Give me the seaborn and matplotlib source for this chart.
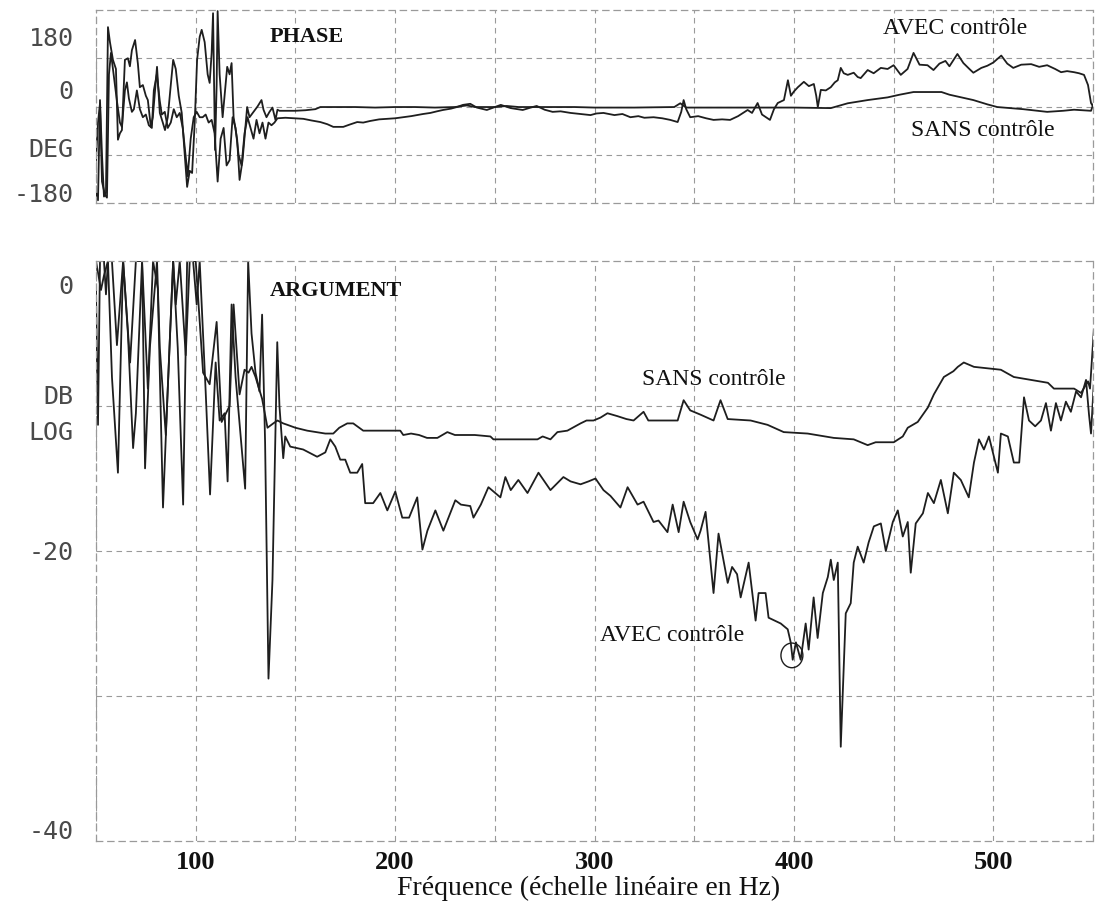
import numpy as np
import pandas as pd
import matplotlib
matplotlib.use("Agg")
import matplotlib.pyplot as plt
from matplotlib.patches import Ellipse
import seaborn as sns

# ---------------- data ----------------
# PHASE panel (degrees)
phase_sans_f = [50, 51, 52, 53, 54, 55, 56, 57, 58.5, 60, 61, 62, 63, 64.5, 66, 67, 68, 69.6, 71, 72,
                73.5, 75, 76, 77.5, 78.5, 80.6, 82, 83.5, 84.6, 86, 87.5, 88.7, 90, 91.5, 93, 94.5, 95.7,
                97, 98.2, 99.5, 100.7, 102, 103, 104.5, 106, 107, 108, 108.7, 109.7, 110.5, 111, 112,
                113.5, 115.8, 117, 118, 119, 120.8, 122, 123.5, 125.8, 127, 129, 131, 133, 134, 135.5,
                137, 138.5, 140, 141, 142, 145, 150, 155, 160, 162.5, 170, 180, 190, 200, 210, 220, 230,
                236, 240, 250, 256, 262, 275, 290, 300, 320, 340, 343, 346, 360, 380, 400, 418.5, 427,
                437, 447, 453, 460, 474, 478, 490, 497, 502, 515, 527, 535, 540.5, 549, 550.5]
phase_sans_deg = [-160, -175, 12, -90, -168, -160, 148, 120, 87, 70, -62, -50, -44, 87, 90, 75, 105, 124, 80, 36,
                  40, 20, 12, -38, -20, 74, -12, -30, -44, -20, 40, 87, 70, 20, -12, -90, -150,
                  -120, -124, -30, 87, 130, 143, 120, 60, 44, 100, 174, -81, 40, 178, 60,
                  -20, 74, 60, 81, -20, -62, -137, -100, -1, -20, -10, 0, 12, -6, -20,
                  -10, -2, -25, -6, -8, -8, -8, -7, -5, -1, -1, -1, -2, -1, -1, -2, -1,
                  2, -1, -1, 1, -1, -1, -1, -2, -2, -1, 6, -2, -2, -2, -2, -3, 6,
                  12, 17, 22, 27, 27, 22, 12, 4, -1, -5, -10, -8, -6, -8, 8]

phase_avec_f = [50, 51, 52, 53, 54.5, 55.5, 56.5, 57.5, 59, 60.5, 62, 63, 64.5, 65.5, 66.5, 68, 69, 70.5, 72,
                73.5, 75, 76.5, 78, 79, 80.5, 82, 83, 84.5, 86, 87.5, 89, 90.5, 92, 93.5, 95, 96, 97.5, 99,
                100.5, 102, 103.5, 105, 106.5, 108, 109.5, 111, 112.5, 114, 115.5, 117, 118.5, 120, 121.5,
                123, 124.5, 126, 127.5, 129, 130.5, 132, 133.5, 135, 136.5, 138, 139.5, 141, 145, 150, 154,
                158, 162.5, 166, 169, 174, 177, 181, 184, 187.5, 192, 196, 200, 204, 208, 211, 214, 217.7,
                221, 224, 228, 231, 234, 237.7, 241, 246, 250, 253, 258, 264, 268, 271, 275, 279, 283, 288,
                293, 298, 301, 304.5, 310, 314, 318, 322, 325, 329.6, 334, 338, 341.7, 343.5, 344.7, 346,
                348, 352, 356, 359.7, 364, 368, 372, 376.8, 379, 381.8, 384, 388, 390, 391.9, 395, 397,
                398.5, 400, 402, 405, 407.5, 410, 411.2, 412, 413.5, 416, 418.5, 420.5, 422, 423.5, 425,
                427, 430, 432, 433.5, 437, 440, 443.6, 447, 450, 453.6, 457, 460, 463, 467, 470, 473, 476,
                478, 482, 485, 488, 490, 494, 497, 500, 504, 507, 510, 514, 519, 523, 527, 531, 534, 537,
                540.5, 543, 545.5, 547.5, 549, 550.5]
phase_avec_deg = [-100, -30, 5, -140, -165, -170, 60, 100, 55, 10, -30, -38, 30, 45, 15, -10, -5, 30, -5,
                  -20, -15, -35, -40, 30, 60, 10, -15, -10, -40, -30, -5, -20, -12, -40, -95, -130, -60, -20,
                  -10, -20, -20, -15, -30, -25, -50, -140, -60, -40, -110, -100, -20, -40, -90,
                  -110, -50, -20, -40, -60, -25, -50, -30, -60, -30, -35, -30, -22, -21, -22, -23,
                  -26, -29, -33, -38, -38, -34, -29, -30, -27, -24, -23, -22, -20, -18, -16, -14, -12,
                  -9, -6.5, -4, -1, 3, 5, -2, -6.5, -1, 3, -3, -6.5, -2, 1, -6, -10, -9, -12,
                  -14, -16, -13, -12, -16, -14, -20, -18, -21, -20, -22, -25, -29, -10, 12, -5,
                  -20, -18, -22, -25, -24, -25, -18, -6.5, -12, 6.5, -15, -25, -5, 6.5, 12, 49,
                  20, 28, 36, 46, 38, 42, 20, -1, 31, 30, 36, 45, 49, 72, 62,
                  59, 63, 55, 53, 68, 62, 72, 70, 77, 59, 70, 100, 78, 77, 68, 80, 85,
                  75, 98, 81, 70, 63, 72, 76, 82, 95, 80, 72, 78, 79, 74, 77, 70, 64, 66,
                  64, 62, 59, 40, 6.5, -3]

# ARGUMENT panel (dB)
gain_sans_f = [50, 51, 52, 54, 55, 56, 58, 60.5, 63.6, 67.1, 70, 73.1, 76, 78.6, 81, 83.6, 85.6, 88.7, 90,
               92, 95, 97, 100, 103.7, 107, 110.5, 113, 117, 119, 122, 124.5, 126.5, 128, 130, 133.3, 136,
               138.9, 141, 143.9, 146, 150, 155.9, 165, 169, 172, 176, 179, 184, 202.6, 204.1, 208, 212,
               216, 221.2, 226.2, 230, 240, 247.8, 249.3, 271.4, 274, 277.9, 281.4, 286.4, 293, 296, 299.5,
               303, 306.5, 311.5, 316, 319.6, 324.6, 327, 341.7, 344.7, 348, 353.2, 359.7, 363.2, 366.8,
               378.3, 386.8, 394.9, 406.9, 420, 430, 437, 441, 450.1, 454.6, 457.1, 462.1, 467.2, 470.2,
               475.2, 480, 482.2, 485.2, 490.3, 503.8, 510.3, 527.4, 530.4, 540.5, 544, 547.5, 548.5, 550.5]
gain_sans_db = [-2.0, -11.3, 0, 0, -2.3, 0, 0, -5.8, 0, -7.0, 0, 0, -8.8, 0, -1.9, -17.0, -10.1, 0, -3,
                0, -6.5, 0, 0, -7.7, -8.5, -4.2, -11.1, -10, -3.0, -9.2, -7.5, -7.7, -7.3, -8, -9.5, -11.5,
                -11.2, -11.0, -11.2, -11.3, -11.5, -11.7, -11.9, -11.9, -11.5, -11.2, -11.2, -11.7, -11.7, -12.0, -11.9, -12.0,
                -12.2, -12.2, -11.8, -12.0, -12.0, -12.1, -12.3, -12.3, -12.1, -12.3, -11.8, -11.7, -11.2, -11.0, -11.0,
                -10.8, -10.5, -10.7, -10.9, -11.0, -10.4, -11.0, -11.0, -9.6, -10.3, -10.6, -11.0, -9.6, -10.9,
                -11.0, -11.3, -11.8, -11.9, -12.2, -12.3, -12.7, -12.5, -12.5, -12.1, -11.5, -11.1, -10.1, -9.2,
                -8.0, -7.6, -7.3, -7.0, -7.3, -7.5, -8.0, -8.4, -8.8, -8.8, -9.1, -8.3, -8.8, -4.6]

gain_avec_f = [50, 52.5, 54, 56, 58, 61, 63.6, 66, 68.6, 70, 73.1, 74.6, 77, 80.6, 82, 85, 88.7, 91, 93.7,
               95.7, 98.7, 100.5, 102, 105, 107.2, 110, 112, 114.5, 116, 118, 120, 122.5, 124.8, 126.3,
               128, 130, 132, 133.3, 134.8, 136.5, 138.5, 140.9, 142, 143.9, 144.9, 147.4, 153.9, 160.9,
               165, 167.5, 170, 172.5, 175, 177.5, 181, 183.5, 185, 189, 192.6, 196.1, 200.1, 203.6, 207,
               211.1, 213.7, 216.2, 220.2, 224.2, 230.2, 233, 237.7, 239.3, 243, 246.8, 252.8, 255.3, 258,
               261.8, 266.4, 271.9, 277.9, 284.4, 288, 293, 297, 300.5, 304.5, 308, 313, 316.6, 321.6,
               324.6, 329.6, 332.1, 336.6, 339.2, 342.2, 344.7, 348, 351.7, 353.2, 355.7, 359.7, 362.2,
               366.8, 369, 371.5, 373.3, 377.3, 380.8, 382.3, 385.8, 387.3, 393.4, 396.9, 398.4, 399.4,
               401, 403.4, 405.9, 407.4, 409.9, 411.9, 414.5, 417, 418.5, 420, 422, 423.5, 426, 428.5,
               430, 432, 435, 437.5, 440.1, 443.6, 446.1, 449.6, 452.1, 454.6, 457.1, 458.6, 461.1, 464.7,
               467.2, 470.2, 473.7, 477.2, 480.2, 483.7, 487.7, 490.3, 492.8, 495.3, 497.8, 502.3, 503.8,
               507.3, 510.3, 513, 515.4, 517.9, 521, 523.9, 526.4, 528.9, 531.4, 533.9, 536.4, 538.9,
               541.5, 544, 546.5, 548, 549, 550.5]
gain_avec_db = [0, -2, -1, 0, -8, -14.6, 0, -5, -12.9, -10.5, 0, -14.3, -6, 0, -6, -12, 0, -6, -16.8,
                0, 0, -3, 0, -9, -16.1, -7, -11, -10.5, -15.2, -3, -8, -12, -15.7, 0,
                -5, -7.7, -9, -3.7, -12.5, -28.8, -22, -5.6, -10, -13.6, -12.1, -12.8, -13.0, -13.5,
                -13.2, -12.3, -12.8, -13.7, -13.7, -14.6, -14.6, -14.0, -16.7, -16.7, -16.0, -17.2, -15.9, -17.7, -17.7,
                -16.3, -19.9, -18.6, -17.2, -18.6, -16.5, -16.8, -16.9, -17.7, -16.8, -15.6, -16.3, -14.9, -15.8,
                -15.1, -16.0, -14.6, -15.8, -14.9, -15.2, -15.4, -15.2, -15.0, -15.8, -16.2, -17.0, -15.6, -16.8,
                -16.6, -18.0, -17.9, -18.7, -16.8, -18.7, -16.6, -18.0, -19.2, -18.6, -17.3, -22.9, -18.8,
                -22.2, -21.1, -21.6, -23.2, -20.8, -24.8, -22.9, -22.9, -24.6, -25.0, -25.4, -26.3, -27.5,
                -26.3, -27.5, -25.0, -26.8, -23.2, -26.0, -22.9, -21.8, -20.6, -22.0, -20.8, -33.5, -24.3, -23.6,
                -20.8, -19.7, -20.8, -19.4, -18.3, -18.1, -20.0, -18.0, -17.2, -19.0, -18.0, -21.5, -18.1, -17.4,
                -16.0, -16.7, -15.1, -17.4, -14.6, -15.1, -16.3, -13.9, -12.3, -13.0, -12.1, -14.6, -11.9,
                -12.1, -13.9, -13.9, -9.4, -11.0, -11.4, -11.0, -9.8, -11.7, -9.8, -11.0, -9.7, -10.4,
                -9.0, -9.4, -8.2, -10.6, -11.9, -8.2]

x_ticks = [100, 200, 300, 400, 500]
x_grid = [50, 100, 150, 200, 250, 300, 350, 400, 450, 500, 550]
phase_grid = [-90, 0, 90]
gain_grid = [-10, -20, -30]
phase_tick_pos = [130, 31, -77, -161]
phase_tick_lab = ["180", "0", "DEG", "-180"]
gain_tick_pos = [-1.65, -9.2, -11.7, -20, -39.2]
gain_tick_lab = ["0", "DB", "LOG", "-20", "-40"]

# ---------------- figure ----------------
sns.set_theme(style="white")
plt.rcParams['font.family'] = ['DejaVu Sans']

W, H = 1099, 906
fig = plt.figure(figsize=(W / 100, H / 100), dpi=100)
ax1 = fig.add_axes([96 / W, 1 - 203 / H, 997 / W, 193 / H])
ax2 = fig.add_axes([96 / W, 1 - 841 / H, 997 / W, 580 / H])

line_c = "#1e1e1e"
grid_c = "#9a9a9a"
dash = (0, (5, 4))

def draw(ax, f, v):
    df = pd.DataFrame({"f": f, "v": v})
    sns.lineplot(data=df, x="f", y="v", ax=ax, color=line_c, linewidth=1.3,
                 estimator=None, sort=False, legend=False)

draw(ax1, phase_sans_f, phase_sans_deg)
draw(ax1, phase_avec_f, phase_avec_deg)
draw(ax2, gain_sans_f, gain_sans_db)
draw(ax2, gain_avec_f, gain_avec_db)

for ax, ylim, hgrid in [(ax1, (-180, 180), phase_grid), (ax2, (-40, 0), gain_grid)]:
    ax.set_xlim(50, 550)
    ax.set_ylim(*ylim)
    ax.set_xlabel("")
    ax.set_ylabel("")
    for g in x_grid:
        ax.axvline(g, color=grid_c, lw=0.8, ls=dash, zorder=0)
    for g in hgrid:
        ax.axhline(g, color=grid_c, lw=0.8, ls=dash, zorder=0)
    for s in ax.spines.values():
        s.set_color(grid_c)
        s.set_linewidth(0.9)
        s.set_linestyle(dash)
    ax.tick_params(length=0)

ax1.set_xticks([])
ax1.set_yticks(phase_tick_pos)
ax1.set_yticklabels(phase_tick_lab)
ax2.set_yticks(gain_tick_pos)
ax2.set_yticklabels(gain_tick_lab)
for ax in (ax1, ax2):
    ax.tick_params(axis="y", pad=16)
    for t in ax.get_yticklabels():
        t.set_family("DejaVu Sans Mono")
        t.set_fontsize(18)
        t.set_color("#4a4a4a")

ax2.set_xticks(x_ticks)
ax2.set_xticklabels([str(v) for v in x_ticks])
ax2.tick_params(axis="x", pad=7)
for t in ax2.get_xticklabels():
    t.set_family("Liberation Serif")
    t.set_fontweight("bold")
    t.set_fontsize(19)
    t.set_color("#111111")

ax2.set_xlabel("Fréquence (échelle linéaire en Hz)", family="Liberation Serif",
               fontsize=20, color="#111111")
ax2.xaxis.label.set_va("center")
ax2.xaxis.set_label_coords(0.494, -0.081)

serif = dict(family="Liberation Serif", color="#111111")
ax1.text(137.3, 130, "PHASE", fontsize=16, fontweight="bold", va="center", ha="left", **serif)
ax2.text(137.3, -2.1, "ARGUMENT", fontsize=16, fontweight="bold", va="center", ha="left", **serif)
ax1.text(444.6, 146, "AVEC contrôle", fontsize=17, va="center", ha="left", **serif)
ax1.text(458.6, -44, "SANS contrôle", fontsize=17, va="center", ha="left", **serif)
ax2.text(324, -8.2, "SANS contrôle", fontsize=17, va="center", ha="left", **serif)
ax2.text(303, -25.8, "AVEC contrôle", fontsize=17, va="center", ha="left", **serif)
ax2.add_patch(Ellipse((399, -27.2), 11, 1.7, fill=False, lw=1.0, color=line_c))

fig.savefig("out.png", dpi=100, facecolor="white")
